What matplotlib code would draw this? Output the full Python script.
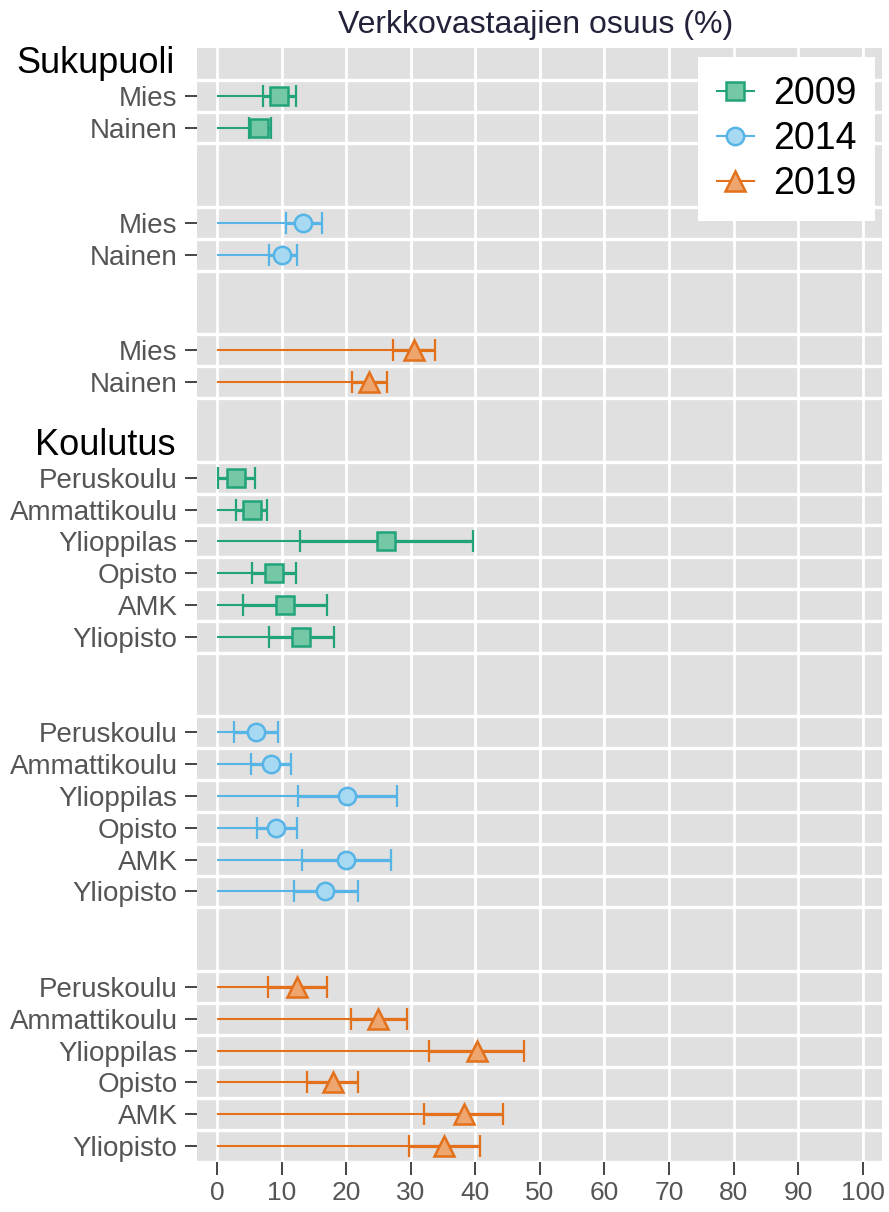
import numpy as np
import matplotlib
matplotlib.use('Agg')
import matplotlib.pyplot as plt
from matplotlib.lines import Line2D
from matplotlib import font_manager

plt.rcParams['font.family'] = ['Liberation Sans', 'DejaVu Sans']

years = ['2009', '2014', '2019']
sukupuoli = ['Mies', 'Nainen']
koulutus = ['Peruskoulu', 'Ammattikoulu', 'Ylioppilas', 'Opisto', 'AMK', 'Yliopisto']

# estimate, lower and upper limit; one row per year
suk_est = [[9.6, 6.5], [13.3, 10.1], [30.5, 23.6]]
suk_lo = [[7.1, 4.9], [10.7, 8.1], [27.3, 20.9]]
suk_hi = [[12.2, 8.3], [16.2, 12.4], [33.8, 26.4]]

kou_est = [[2.9, 5.4, 26.2, 8.8, 10.6, 13.0],
           [6.0, 8.3, 20.2, 9.1, 20.0, 16.8],
           [12.4, 25.0, 40.2, 17.9, 38.2, 35.2]]
kou_lo = [[0.1, 3.0, 12.9, 5.4, 4.0, 8.0],
          [2.7, 5.3, 12.6, 6.2, 13.1, 12.0],
          [7.9, 20.7, 32.8, 14.0, 32.1, 29.8]]
kou_hi = [[5.9, 7.7, 39.6, 12.2, 17.1, 18.1],
          [9.5, 11.5, 27.9, 12.4, 26.9, 21.8],
          [17.0, 29.4, 47.5, 21.8, 44.3, 40.8]]

line_col = ['#22A37A', '#56B4E6', '#E3701A']
fill_col = ['#74C8A6', '#A8D9F3', '#EFA56E']
markers = ['s', 'o', '^']
msizes = [13, 12.5, 14]

# narrow font for the x axis if we have one
try:
    font_manager.findfont('Liberation Sans Narrow', fallback_to_default=False)
    narrow = ['Liberation Sans Narrow', 'Liberation Sans']
except Exception:
    narrow = ['Liberation Sans', 'DejaVu Sans']

# row layout: header, 3 year blocks (each followed by 2 empty rows), ...
ypos = [[], [], []]
est, lo, hi = [[], [], []], [[], [], []], [[], [], []]
tick_pos, tick_lab = [], []
headers = []
r = 0
for title, names, e, l, h in [('Sukupuoli', sukupuoli, suk_est, suk_lo, suk_hi),
                              ('Koulutus', koulutus, kou_est, kou_lo, kou_hi)]:
    if r > 0:
        r -= 1  # only one gap row before the second header
    headers.append((r, title))
    r += 1
    for i in range(3):
        for j, name in enumerate(names):
            ypos[i].append(r)
            est[i].append(e[i][j])
            lo[i].append(l[i][j])
            hi[i].append(h[i][j])
            tick_pos.append(r)
            tick_lab.append(name)
            r += 1
        r += 2
last = max(tick_pos)

fig = plt.figure(figsize=(8.89, 12.12), dpi=100)
ax = fig.add_axes([197 / 889, 1 - 1162 / 1212, 685 / 889, 1114 / 1212])
ax.set_facecolor('#E0E0E0')
ax.set_xlim(-3.1, 103.0)
ax.set_ylim(last + 0.5, -0.5)
for s in ax.spines.values():
    s.set_visible(False)

# grid
for x in range(0, 101, 10):
    ax.axvline(x, color='white', lw=2.0, zorder=0.5)
bounds = sorted(set([p - 0.5 for p in tick_pos] + [p + 0.5 for p in tick_pos]))
for b in bounds:
    ax.axhline(b, color='white', lw=2.4, zorder=0.5)

for i in range(3):
    y = np.array(ypos[i])
    e, l, h = np.array(est[i]), np.array(lo[i]), np.array(hi[i])
    ax.hlines(y, 0, h, color=line_col[i], lw=1.5, zorder=2)
    ax.errorbar(e, y, xerr=[e - l, h - e], fmt='none', ecolor=line_col[i],
                elinewidth=2.3, capsize=8, capthick=1.6, zorder=3)
    ax.plot(e, y, ls='none', marker=markers[i], ms=msizes[i],
            mfc=fill_col[i], mec=line_col[i], mew=1.8, zorder=4)

ax.set_yticks(tick_pos)
ax.set_yticklabels(tick_lab, fontsize=20, color='#555555')
ax.tick_params(axis='y', length=9, width=1.4, color='#444444', pad=5)

ax.set_xticks(range(0, 101, 10))
ax.set_xticklabels([str(v) for v in range(0, 101, 10)], fontsize=19,
                   color='#555555', family=narrow)
ax.tick_params(axis='x', length=9, width=1.4, color='#444444', pad=5)

for r, title in headers:
    ax.text(-0.032, r, title, transform=ax.get_yaxis_transform(),
            ha='right', va='center', fontsize=26, color='black')

fig.text(536 / 889, 1 - 25 / 1212, 'Verkkovastaajien osuus (%)', ha='center',
         va='center', fontsize=23, color='#22223A')

handles = [Line2D([0, 1], [0, 0], color=line_col[i], lw=1.5, marker=markers[i],
                  ms=msizes[i], mfc=fill_col[i], mec=line_col[i], mew=1.8,
                  markevery=[2])
           for i in range(3)]
leg = ax.legend(handles, years, loc='upper right', bbox_to_anchor=(0.99, 0.992),
                fontsize=27, frameon=True, fancybox=False, framealpha=1,
                edgecolor='white', handlelength=1.0, handletextpad=0.5,
                labelspacing=0.25, borderpad=0.5, borderaxespad=0)
leg.get_frame().set_linewidth(0)

fig.savefig('out.png', dpi=100)
